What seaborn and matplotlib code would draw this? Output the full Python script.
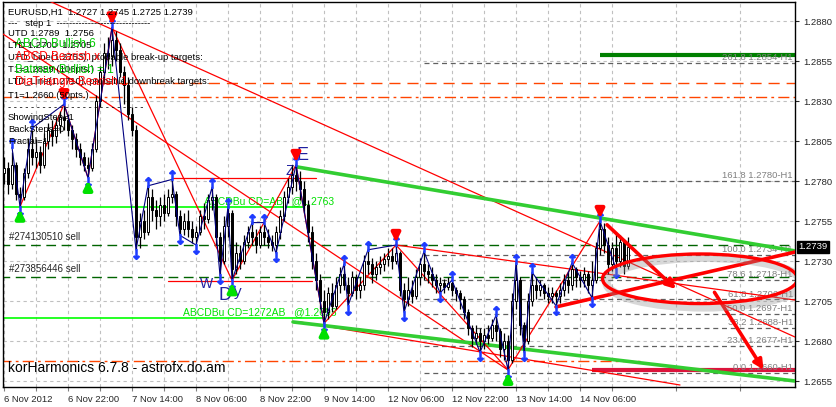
import matplotlib
matplotlib.use("Agg")
import matplotlib.pyplot as plt
import matplotlib.transforms as mtransforms
from matplotlib.patches import Ellipse
import numpy as np
import pandas as pd
import seaborn as sns

# ---- EURUSD H1 bars ----
first_open = 1.2785
closes = [
    1.2788, 1.2778, 1.2790, 1.2772, 1.2770, 1.2785, 1.2800, 1.2795, 1.2798, 1.2790,
    1.2805, 1.2812, 1.2808, 1.2815, 1.2820, 1.2818, 1.2812, 1.2806, 1.2800, 1.2795,
    1.2790, 1.2788, 1.2800, 1.2830, 1.2848, 1.2860, 1.2858, 1.2868, 1.2862, 1.2848,
    1.2840, 1.2822, 1.2812, 1.2745, 1.2755, 1.2748, 1.2770, 1.2762, 1.2758, 1.2765,
    1.2760, 1.2770, 1.2772, 1.2758, 1.2750, 1.2755, 1.2750, 1.2745, 1.2748, 1.2758,
    1.2756, 1.2768, 1.2770, 1.2745, 1.2730, 1.2752, 1.2760, 1.2725, 1.2735, 1.2730,
    1.2742, 1.2748, 1.2745, 1.2740, 1.2748, 1.2745, 1.2742, 1.2740, 1.2748, 1.2758,
    1.2770, 1.2776, 1.2784, 1.2780, 1.2775, 1.2765, 1.2748, 1.2730, 1.2718, 1.2705,
    1.2698, 1.2710, 1.2702, 1.2715, 1.2722, 1.2715, 1.2710, 1.2720, 1.2712, 1.2715,
    1.2730, 1.2728, 1.2722, 1.2726, 1.2728, 1.2731, 1.2733, 1.2730, 1.2735, 1.2712,
    1.2706, 1.2712, 1.2708, 1.2720, 1.2728, 1.2724, 1.2722, 1.2718, 1.2715, 1.2716,
    1.2714, 1.2716, 1.2712, 1.2710, 1.2706, 1.2698, 1.2688, 1.2682, 1.2685, 1.2680,
    1.2684, 1.2682, 1.2690, 1.2686, 1.2675, 1.2680, 1.2668, 1.2705, 1.2718, 1.2690,
    1.2680, 1.2705, 1.2715, 1.2712, 1.2715, 1.2710, 1.2708, 1.2710, 1.2708, 1.2712,
    1.2718, 1.2715, 1.2725, 1.2720, 1.2718, 1.2722, 1.2715, 1.2718, 1.2738, 1.2750,
    1.2740, 1.2728, 1.2738, 1.2730, 1.2742, 1.2727, 1.2739,
]
highs = [
    1.2795, 1.2792, 1.2798, 1.2792, 1.2776, 1.2788, 1.2806, 1.2812, 1.2806, 1.2802,
    1.2810, 1.2816, 1.2818, 1.2820, 1.2824, 1.2828, 1.2822, 1.2815, 1.2810, 1.2804,
    1.2798, 1.2795, 1.2804, 1.2834, 1.2852, 1.2866, 1.2870, 1.2876, 1.2874, 1.2866,
    1.2852, 1.2845, 1.2826, 1.2815, 1.2760, 1.2762, 1.2777, 1.2775, 1.2768, 1.2770,
    1.2772, 1.2775, 1.2781, 1.2774, 1.2762, 1.2760, 1.2762, 1.2755, 1.2752, 1.2762,
    1.2766, 1.2772, 1.2777, 1.2772, 1.2748, 1.2758, 1.2766, 1.2762, 1.2742, 1.2740,
    1.2746, 1.2752, 1.2755, 1.2750, 1.2752, 1.2754, 1.2750, 1.2746, 1.2752, 1.2762,
    1.2774, 1.2782, 1.2790, 1.2792, 1.2786, 1.2780, 1.2768, 1.2752, 1.2735, 1.2722,
    1.2712, 1.2714, 1.2716, 1.2720, 1.2726, 1.2730, 1.2720, 1.2724, 1.2722, 1.2720,
    1.2734, 1.2739, 1.2732, 1.2730, 1.2733, 1.2735, 1.2738, 1.2738, 1.2742, 1.2736,
    1.2716, 1.2720, 1.2718, 1.2725, 1.2732, 1.2737, 1.2728, 1.2726, 1.2722, 1.2720,
    1.2719, 1.2720, 1.2718, 1.2714, 1.2712, 1.2708, 1.2700, 1.2690, 1.2690, 1.2688,
    1.2688, 1.2690, 1.2694, 1.2696, 1.2688, 1.2685, 1.2684, 1.2710, 1.2729, 1.2720,
    1.2692, 1.2710, 1.2723, 1.2720, 1.2718, 1.2716, 1.2714, 1.2714, 1.2712, 1.2716,
    1.2722, 1.2724, 1.2729, 1.2726, 1.2724, 1.2726, 1.2724, 1.2730, 1.2742, 1.2756,
    1.2754, 1.2745, 1.2742, 1.2748, 1.2746, 1.2744, 1.2745,
]
lows = [
    1.2778, 1.2772, 1.2775, 1.2768, 1.2764, 1.2768, 1.2782, 1.2790, 1.2788, 1.2785,
    1.2788, 1.2800, 1.2802, 1.2804, 1.2810, 1.2812, 1.2808, 1.2800, 1.2795, 1.2790,
    1.2786, 1.2782, 1.2786, 1.2798, 1.2826, 1.2842, 1.2850, 1.2852, 1.2855, 1.2845,
    1.2828, 1.2818, 1.2808, 1.2737, 1.2738, 1.2744, 1.2746, 1.2755, 1.2750, 1.2752,
    1.2755, 1.2758, 1.2766, 1.2752, 1.2746, 1.2746, 1.2745, 1.2741, 1.2740, 1.2746,
    1.2750, 1.2754, 1.2762, 1.2740, 1.2721, 1.2728, 1.2745, 1.2718, 1.2722, 1.2725,
    1.2728, 1.2738, 1.2740, 1.2735, 1.2738, 1.2740, 1.2738, 1.2736, 1.2735, 1.2744,
    1.2755, 1.2766, 1.2772, 1.2774, 1.2768, 1.2760, 1.2742, 1.2725, 1.2712, 1.2700,
    1.2691, 1.2694, 1.2698, 1.2700, 1.2710, 1.2712, 1.2702, 1.2708, 1.2706, 1.2707,
    1.2712, 1.2722, 1.2716, 1.2718, 1.2722, 1.2724, 1.2727, 1.2725, 1.2728, 1.2708,
    1.2698, 1.2702, 1.2704, 1.2706, 1.2715, 1.2718, 1.2716, 1.2714, 1.2710, 1.2710,
    1.2710, 1.2712, 1.2708, 1.2705, 1.2700, 1.2694, 1.2684, 1.2676, 1.2678, 1.2673,
    1.2675, 1.2678, 1.2680, 1.2680, 1.2670, 1.2668, 1.2662, 1.2666, 1.2700, 1.2684,
    1.2673, 1.2678, 1.2702, 1.2706, 1.2708, 1.2706, 1.2704, 1.2704, 1.2702, 1.2704,
    1.2708, 1.2710, 1.2712, 1.2714, 1.2714, 1.2714, 1.2710, 1.2706, 1.2716, 1.2734,
    1.2735, 1.2722, 1.2724, 1.2725, 1.2726, 1.2722, 1.2725,
]

time_ticks = [0, 16, 32, 48, 64, 80, 96, 112, 128, 144]
time_labels = ["6 Nov 2012", "6 Nov 22:00", "7 Nov 14:00", "8 Nov 06:00", "8 Nov 22:00",
               "9 Nov 14:00", "12 Nov 06:00", "12 Nov 22:00", "13 Nov 14:00", "14 Nov 06:00"]
price_ticks = [1.2655, 1.2680, 1.2705, 1.2730, 1.2755, 1.2780, 1.2805, 1.2830, 1.2855, 1.2880]
last_price = 1.2739

# fractal zigzag (blue)
zz_bars = [2, 4, 7, 15, 21, 27, 33, 36, 42, 44, 48, 52, 54, 56, 57, 62, 65, 68, 73, 80,
           85, 86, 91, 98, 100, 105, 109, 112, 119, 123, 126, 128, 130, 132, 138, 142, 147, 149, 153]
zz_prices = [1.2801, 1.2764, 1.2813, 1.2828, 1.2782, 1.2876, 1.2737, 1.2777, 1.2781, 1.2746,
             1.2740, 1.2776, 1.2721, 1.2764, 1.2718, 1.2754, 1.2754, 1.2735, 1.2790, 1.2691,
             1.2728, 1.2702, 1.2737, 1.2740, 1.2698, 1.2736, 1.2710, 1.2718, 1.2673, 1.2696,
             1.2662, 1.2729, 1.2673, 1.2723, 1.2702, 1.2729, 1.2707, 1.2755, 1.2725]
zz_kind = ["H", "L", "H", "H", "L", "H", "L", "H", "H", "L", "L", "H", "L", "H", "L", "H", "H",
           "L", "H", "L", "H", "L", "H", "H", "L", "H", "L", "H", "L", "H", "L", "H", "L", "H",
           "L", "H", "L", "H", "L"]

# main pattern swing points (red zigzag, big arrows)
swing_bars = [4, 15, 21, 27, 57, 73, 80, 98, 126, 149]
swing_prices = [1.2764, 1.2828, 1.2782, 1.2876, 1.2718, 1.2790, 1.2691, 1.2740, 1.2662, 1.2755]
swing_kind = ["L", "H", "L", "H", "L", "H", "L", "H", "L", "H"]

# trend lines: (bar0, price0, bar1, price1)
thin_red_lines = [
    (10.75, 1.28931, 197.75, 1.26825),
    (-1, 1.28731, 126, 1.26619),
    (98, 1.27400, 197.75, 1.27056),
    (74, 1.26919, 169, 1.26525),
    (42, 1.27819, 78, 1.27819),
    (41, 1.27175, 77, 1.27175),
]
green_trend_lines = [
    (73.25, 1.27888, 197.75, 1.27363),
    (72.25, 1.26919, 197.75, 1.26550),
]
wedge_line = (138, 1.27013, 197.75, 1.27356)
red_arrows = [
    (150.25, 1.27538, 168.5, 1.27113),
    (177.25, 1.27119, 190.25, 1.26606),
]

# fibonacci levels
fib_levels = [1.2854, 1.2780, 1.2734, 1.2718, 1.2706, 1.2697, 1.2688, 1.2677, 1.2660]
fib_labels = ["261.8 1.2854-H1", "161.8 1.2780-H1", "100.0 1.2734-H1", "78.6 1.2718-H1",
              "61.8 1.2706-H1", "50.0 1.2697-H1", "38.2 1.2688-H1", "23.6 1.2677-H1",
              "0.0 1.2660-H1"]
fib_start = 105

abcd_levels = [1.27638, 1.26944]
abcd_ends = [75, 80]
abcd_texts = ["ABCDBu CD=AB   @1.2763", "ABCDBu CD=1272AB   @1.2693"]
abcd_text_bars = [50, 44.75]

order_levels = [1.2740, 1.2720]
order_texts = ["#274130510 sell", "#273856446 sell"]

target_up = 1.28588
target_dn = 1.26619
ltd_lines = [1.28413, 1.28325, 1.26675]

info_lines = [
    "EURUSD,H1  1.2727 1.2745 1.2725 1.2739",
    "---   step 1  ------------------------------",
    "UTD 1.2789  1.2756",
    "LTD 1.2700  1.2705",
    "UTD_Line(1.2753), probable break-up targets:",
    "T1=1.2859 (106pts.)",
    "LTD_Line(1.2710), probable downbreak targets:",
    "T1=1.2660 (50pts.)",
    "- - - - - - - - - - - - - - - - - - - - - - - -",
    "ShowingStep=1",
    "BackSteps=0",
    "Fractal=1",
]
info_y = [12, 23, 34, 46, 58, 70, 82, 95, 107, 118, 130, 142]
pattern_lines = ["ABCD Bullish 6", "ABCD Bearish x", "Batman Bullish = 1", "DiaTriangle Bearish 1"]
pattern_colors = ["#00C800", "#FF0000", "#00C800", "#FF0000"]
pattern_y = [44, 57, 70, 82]

# ---- build ----
sns.set_theme(style="white")
plt.rcParams["font.family"] = ["Liberation Sans", "DejaVu Sans"]

df = pd.DataFrame({"close": closes, "high": highs, "low": lows})
df["open"] = [first_open] + closes[:-1]
df["bar"] = np.arange(len(df))

fig = plt.figure(figsize=(8.37, 4.07), dpi=100)
ax = fig.add_axes([3 / 837, 20 / 407, 792 / 837, 385 / 407])
ax.set_facecolor("white")

W, H = 792, 385


def px(x, y):
    # pixel position inside the chart -> axes fraction
    return (x - 3) / W, (387 - y) / H


ax.set_xlim(-0.25, 197.75)
ax.set_ylim(1.265125, 1.289188)

# grid
ax.set_xticks(time_ticks)
ax.set_xticks(np.arange(8, 198, 16), minor=True)
ax.set_yticks(price_ticks)
ax.grid(True, which="both", axis="x", color="#C0C0C0", ls=(0, (3, 3)), lw=0.8)
ax.grid(True, which="major", axis="y", color="#C0C0C0", ls=(0, (3, 3)), lw=0.8)

# horizontal objects
ax.hlines(ltd_lines[0], 24, 197.75, color="#FF4500", lw=1, ls=(0, (8, 5)))
ax.hlines(ltd_lines[1], -1, 197.75, color="#FF4500", lw=1, ls=(0, (8, 3, 2, 3)))
ax.hlines(ltd_lines[2], -1, 159, color="#FF4500", lw=1, ls=(0, (8, 3, 2, 3)))

for lvl, t in zip(order_levels, order_texts):
    ax.hlines(lvl, -1, 197.75, color="#006400", lw=1, ls=(0, (7, 4)))
    ax.annotate(t, xy=(px(9, 0)[0], lvl), xycoords=("axes fraction", "data"),
                xytext=(0, 2), textcoords="offset points", fontsize=7, va="bottom", ha="left")

for lvl, end, t, b in zip(abcd_levels, abcd_ends, abcd_texts, abcd_text_bars):
    ax.hlines(lvl, -1, end, color="#00FF00", lw=1.2)
    ax.text(b, lvl + 0.00008, t, fontsize=7.5, color="#00E000", va="bottom", ha="left")

for lvl, lab in zip(fib_levels, fib_labels):
    ax.hlines(lvl, fib_start, 197.75, color="#606060", lw=0.9, ls=(0, (4, 3)))
    ax.text(197.2, lvl + 0.00005, lab, fontsize=6.8, color="#808080", ha="right", va="bottom")

ax.hlines(target_up, 149, 197.75, color="#008000", lw=3)
ax.hlines(target_dn, 147, 197.75, color="#DC143C", lw=3)

# trend lines
for b0, p0, b1, p1 in thin_red_lines:
    ax.plot([b0, b1], [p0, p1], color="red", lw=0.9, zorder=3)
for b0, p0, b1, p1 in green_trend_lines:
    ax.plot([b0, b1], [p0, p1], color="#32CD32", lw=2.6, zorder=3)
ax.plot([wedge_line[0], wedge_line[2]], [wedge_line[1], wedge_line[3]], color="red", lw=2.6, zorder=6)
for b0, p0, b1, p1 in red_arrows:
    ax.annotate("", xy=(b1, p1), xytext=(b0, p0), zorder=6,
                arrowprops=dict(arrowstyle="-|>", color="red", lw=2.6, mutation_scale=14))

# red zigzag through main swings
sns.lineplot(x=swing_bars, y=swing_prices, color="red", lw=0.9, ax=ax, sort=False,
             estimator=None, zorder=3)

# candles
up = df["close"] >= df["open"]
ax.vlines(df["bar"], df["low"], df["high"], color="black", lw=0.9, zorder=4)
body_lo = np.minimum(df["open"], df["close"])
body_h = np.maximum(np.abs(df["close"] - df["open"]), 0.00004)
ax.bar(df["bar"][up], body_h[up], bottom=body_lo[up], width=0.7, color="white",
       edgecolor="black", linewidth=0.7, zorder=5)
ax.bar(df["bar"][~up], body_h[~up], bottom=body_lo[~up], width=0.7, color="black",
       edgecolor="black", linewidth=0.7, zorder=5)

# blue fractal zigzag
sns.lineplot(x=zz_bars, y=zz_prices, color="#000080", lw=0.8, ax=ax, sort=False,
             estimator=None, zorder=6)
for b, p, k in zip(zz_bars, zz_prices, zz_kind):
    if k == "H":
        ax.plot(b, p + 0.00025, marker=r"$\uparrow$", color="#1E3CFF", ms=7, zorder=7)
    else:
        ax.plot(b, p - 0.00025, marker=r"$\downarrow$", color="#1E3CFF", ms=7, zorder=7)

# big swing arrows
for b, p, k in zip(swing_bars, swing_prices, swing_kind):
    if k == "H":
        ax.annotate("", xy=(b, p), xytext=(b, p + 0.0008), zorder=8,
                    arrowprops=dict(arrowstyle="-|>", color="red", lw=3, mutation_scale=12))
    else:
        ax.annotate("", xy=(b, p), xytext=(b, p - 0.0008), zorder=8,
                    arrowprops=dict(arrowstyle="-|>", color="#00E000", lw=3, mutation_scale=12))

# ellipse with shadow
ax.add_patch(Ellipse((175, 1.27165), 48.75, 0.0031, fill=False, lw=6, ec="#909090",
                     alpha=0.35, zorder=7))
ax.add_patch(Ellipse((174, 1.27189), 48.75, 0.0031, fill=False, lw=2.4, ec="red", zorder=8))

# letters
navy = "#2020A0"
letters = [("E", 303, 155, 13), ("Z", 290, 171, 10), ("W", 207, 284, 10),
           ("D", 225, 295, 13), ("y", 238, 292, 11)]
for s, x, y, fs in letters:
    ax.text(*px(x, y), s, transform=ax.transAxes, fontsize=fs, color=navy, ha="center", va="center")

# info text
for t, y in zip(info_lines, info_y):
    ax.text(*px(8, y), t, transform=ax.transAxes, fontsize=6.8, color="black", va="center", zorder=9)
for t, c, y in zip(pattern_lines, pattern_colors, pattern_y):
    ax.text(*px(15, y), t, transform=ax.transAxes, fontsize=8.5, color=c, va="center", zorder=9)
ax.text(*px(8, 368), "korHarmonics 6.7.8 - astrofx.do.am", transform=ax.transAxes,
        fontsize=10, color="black", va="center", zorder=9)

# axes styling
ax.yaxis.tick_right()
ax.set_yticklabels([f"{v:.4f}" for v in price_ticks])
ax.set_xticklabels(time_labels)
for lbl in ax.get_xticklabels():
    lbl.set_ha("left")
ax.tick_params(axis="x", which="both", bottom=True, length=3, width=0.8, color="#808080",
               labelsize=6.8, pad=3)
ax.tick_params(axis="y", right=True, length=3, width=0.8, labelsize=6.8, pad=3)
ax.set_xlabel("")
ax.set_ylabel("")
for s in ax.spines.values():
    s.set_color("black")
    s.set_linewidth(1)

ax.text(1.004, last_price, f"{last_price:.4f}", fontsize=6.8, color="white", va="center", ha="left",
        transform=mtransforms.blended_transform_factory(ax.transAxes, ax.transData),
        bbox=dict(boxstyle="square,pad=0.15", fc="black", ec="black"), zorder=10)

fig.savefig("out.png", dpi=100)
